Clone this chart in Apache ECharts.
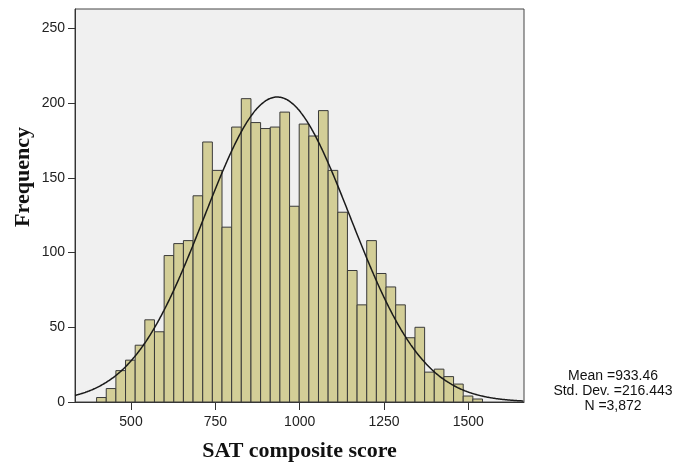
<!DOCTYPE html>
<html>
<head>
<meta charset="UTF-8">
<title>SAT composite score</title>
<script src="https://cdn.jsdelivr.net/npm/echarts@6.0.0/dist/echarts.min.js"></script>
<style>
  html, body { margin: 0; padding: 0; background: #fff; }
  #chart { width: 681px; height: 468px; }
</style>
</head>
<body>
<div id="chart"></div>
<script>
// histogram bins
const binStart = 398;
const binWidth = 28.6;
const counts = [3, 9, 21, 28, 38, 55, 47, 98, 106, 108,
  138, 174, 155, 117, 184, 203, 187, 183, 184, 194,
  131, 186, 178, 195, 155, 127, 88, 65, 108, 86,
  77, 65, 43, 50, 20, 22, 17, 12, 4, 2];

const xTicks = [500, 750, 1000, 1250, 1500];
const yTicks = [0, 50, 100, 150, 200, 250];

// fitted normal curve
const mean = 933.46;
const sd = 216.443;
const n = 3872;
const statLines = ['Mean =933.46', 'Std. Dev. =216.443', 'N =3,872'];

const xMin = 334, xMax = 1665, yMax = 263;

const bins = counts.map((c, i) => [binStart + i * binWidth, binStart + (i + 1) * binWidth, c]);

const curve = [];
for (let x = xMin; x <= xMax; x += 3) {
  const z = (x - mean) / sd;
  curve.push([x, n * binWidth / (sd * Math.sqrt(2 * Math.PI)) * Math.exp(-0.5 * z * z)]);
}

const chart = echarts.init(document.getElementById('chart'));
const labelFont = { fontFamily: 'Liberation Sans, Arial, sans-serif', fontSize: 14, color: '#222' };

chart.setOption({
  animation: false,
  grid: {
    left: 75, right: 157, top: 9, bottom: 66,
    show: true, backgroundColor: '#f0f0f0', borderColor: '#444', borderWidth: 1
  },
  xAxis: {
    type: 'value', min: xMin, max: xMax,
    name: 'SAT composite score', nameLocation: 'middle', nameGap: 38,
    nameTextStyle: { fontFamily: 'Liberation Serif, Times New Roman, serif', fontWeight: 'bold', fontSize: 22, color: '#111' },
    axisLine: { show: true, lineStyle: { color: '#333', width: 1 } },
    axisTick: { show: true, inside: false, length: 8, customValues: xTicks, lineStyle: { color: '#333' } },
    axisLabel: Object.assign({ margin: 13, customValues: xTicks, formatter: v => String(v) }, labelFont),
    splitLine: { show: false }
  },
  yAxis: {
    type: 'value', min: 0, max: yMax,
    axisLine: { show: true, lineStyle: { color: '#333', width: 1 } },
    axisTick: { show: true, inside: false, length: 7, customValues: yTicks, lineStyle: { color: '#333' } },
    axisLabel: Object.assign({ margin: 10, customValues: yTicks, formatter: v => String(v) }, labelFont),
    splitLine: { show: false }
  },
  graphic: [
    {
      type: 'text', x: 23, y: 177, rotation: Math.PI / 2,
      style: {
        text: 'Frequency', align: 'center', verticalAlign: 'middle',
        font: 'bold 22px "Liberation Serif", "Times New Roman", serif', fill: '#111'
      }
    },
    {
      type: 'text', x: 613, y: 391,
      style: {
        text: statLines.join('\n'), align: 'center', verticalAlign: 'middle', lineHeight: 15,
        font: '14px "Liberation Sans", Arial, sans-serif', fill: '#111'
      }
    }
  ],
  series: [
    {
      type: 'custom',
      data: bins,
      encode: { x: [0, 1], y: 2 },
      renderItem: function (params, api) {
        const p0 = api.coord([api.value(0), api.value(2)]);
        const p1 = api.coord([api.value(1), 0]);
        return {
          type: 'rect',
          shape: { x: p0[0], y: p0[1], width: p1[0] - p0[0], height: p1[1] - p0[1] },
          style: { fill: '#d3ce97', stroke: '#3a3a3a', lineWidth: 1 }
        };
      }
    },
    {
      type: 'line',
      data: curve,
      showSymbol: false,
      smooth: true,
      lineStyle: { color: '#1a1a1a', width: 1.5 },
      z: 5
    }
  ]
});
</script>
</body>
</html>
